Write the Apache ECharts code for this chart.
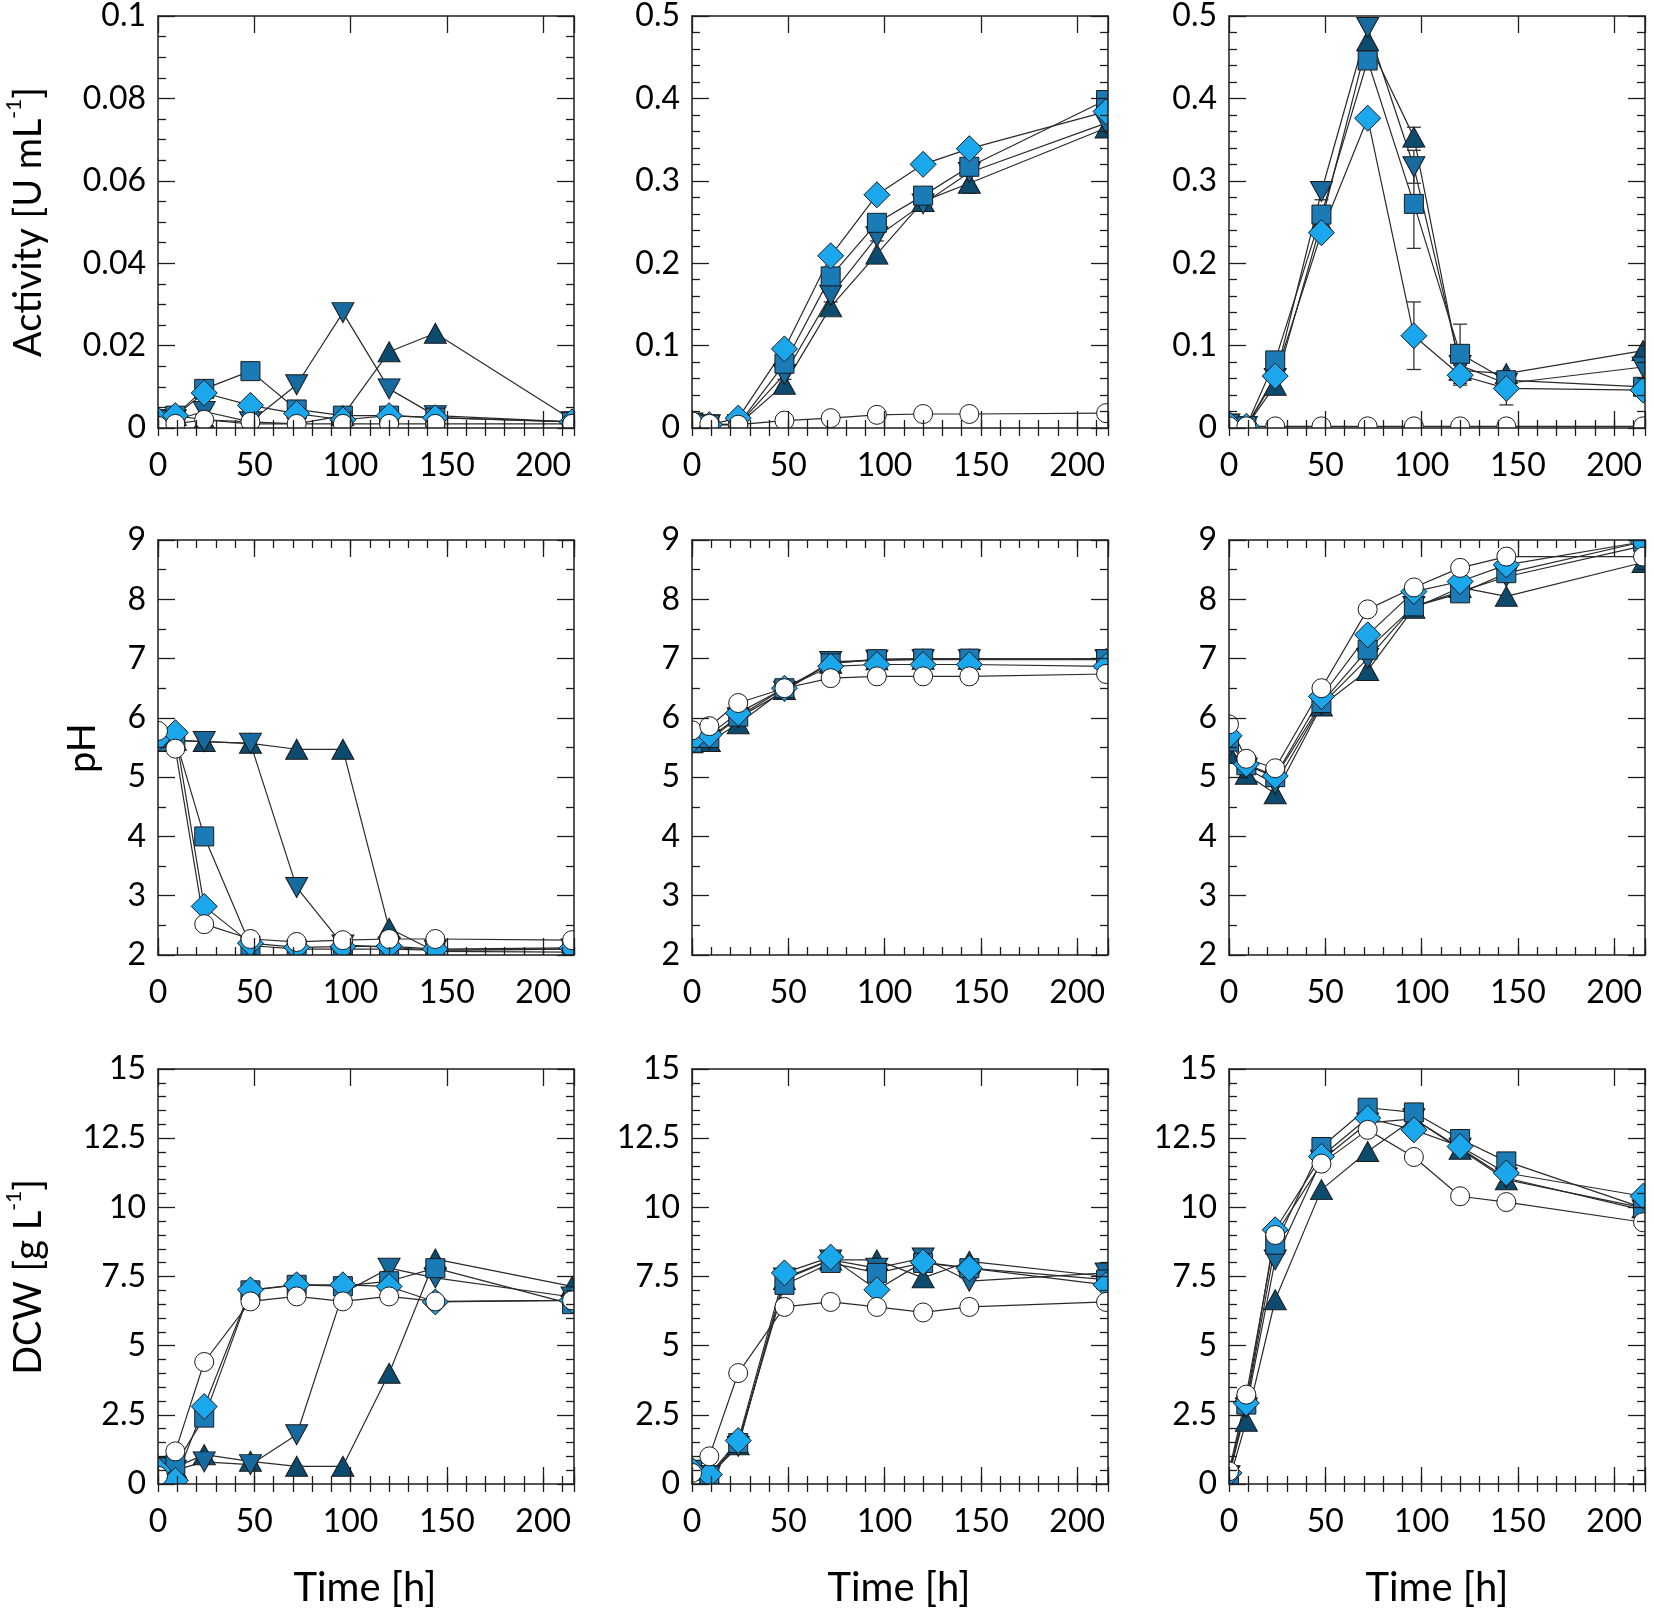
<!DOCTYPE html>
<html><head><meta charset="utf-8">
<script src="https://cdn.jsdelivr.net/npm/echarts@6/dist/echarts.min.js"></script>
<style>html,body{margin:0;padding:0;background:#fff}#c{width:1654px;height:1609px}</style>
</head><body><div id="c"></div>
<script>
// ---------- DATA ----------
const times = [0, 9, 24, 48, 72, 96, 120, 144, 215];

// Activity [U mL-1], column 1
const act1_up = [0.002, 0.003, 0.002, 0.001, 0.001, 0.003, 0.0185, 0.023, 0.002];
const act1_dn = [0.002, 0.002, 0.004, 0.0015, 0.0105, 0.028, 0.0095, 0.003, 0.0015];
const act1_sq = [0.002, 0.003, 0.0095, 0.0138, 0.0045, 0.003, 0.003, 0.0025, 0.0015];
const act1_dm = [0.002, 0.003, 0.0085, 0.0055, 0.0035, 0.002, 0.003, 0.0025, 0.0015];
const act1_ci = [0.0005, 0.001, 0.002, 0.0015, 0.001, 0.001, 0.001, 0.001, 0.001];
// Activity, column 2
const act2_up = [0.006, 0.004, 0.004, 0.053, 0.147, 0.211, 0.275, 0.297, 0.364];
const act2_dn = [0.006, 0.004, 0.004, 0.065, 0.161, 0.232, 0.272, 0.31, 0.37];
const act2_sq = [0.006, 0.004, 0.004, 0.078, 0.184, 0.249, 0.282, 0.317, 0.398];
const act2_dm = [0.006, 0.004, 0.012, 0.096, 0.209, 0.283, 0.32, 0.339, 0.384];
const act2_ci = [0.008, 0.005, 0.004, 0.009, 0.012, 0.016, 0.017, 0.017, 0.018];
// Activity, column 3
const act3_up = [0.005, 0.002, 0.052, 0.25, 0.47, 0.353, 0.07, 0.066, 0.094];
const act3_dn = [0.005, 0.002, 0.06, 0.287, 0.486, 0.317, 0.076, 0.054, 0.074];
const act3_sq = [0.005, 0.002, 0.082, 0.259, 0.446, 0.272, 0.09, 0.058, 0.05];
const act3_dm = [0.005, 0.002, 0.063, 0.237, 0.376, 0.112, 0.064, 0.048, 0.046];
const act3_ci = [0.002, 0.002, 0.002, 0.002, 0.002, 0.002, 0.002, 0.002, 0.002];
// pH, column 1
const ph1_up = [5.6, 5.62, 5.6, 5.57, 5.47, 5.47, 2.45, 2.06, 2.05];
const ph1_dn = [5.6, 5.62, 5.6, 5.57, 3.14, 2.17, 2.13, 2.08, 2.1];
const ph1_sq = [5.6, 5.65, 4.0, 2.16, 2.1, 2.1, 2.1, 2.08, 2.1];
const ph1_dm = [5.65, 5.75, 2.82, 2.2, 2.13, 2.14, 2.15, 2.1, 2.12];
const ph1_ci = [5.78, 5.48, 2.52, 2.27, 2.22, 2.25, 2.27, 2.27, 2.25];
// pH, column 2
const ph2_up = [5.58, 5.6, 5.9, 6.48, 6.92, 6.98, 6.99, 6.99, 7.0];
const ph2_dn = [5.6, 5.63, 6.0, 6.45, 6.95, 6.97, 6.98, 6.98, 6.98];
const ph2_sq = [5.58, 5.66, 6.02, 6.5, 6.92, 6.99, 7.0, 7.0, 6.99];
const ph2_dm = [5.62, 5.72, 6.08, 6.5, 6.87, 6.9, 6.9, 6.9, 6.87];
const ph2_ci = [5.79, 5.86, 6.25, 6.5, 6.67, 6.7, 6.7, 6.7, 6.74];
// pH, column 3
const ph3_up = [5.4, 5.05, 4.72, 6.2, 6.8, 7.85, 8.2, 8.05, 8.62];
const ph3_dn = [5.5, 5.15, 4.88, 6.22, 7.0, 7.88, 8.13, 8.38, 8.9];
const ph3_sq = [5.6, 5.2, 5.0, 6.25, 7.15, 7.88, 8.1, 8.44, 8.97];
const ph3_dm = [5.7, 5.22, 5.02, 6.36, 7.4, 8.13, 8.3, 8.58, 8.97];
const ph3_ci = [5.89, 5.31, 5.15, 6.5, 7.83, 8.2, 8.53, 8.72, 8.72];
// DCW [g L-1], column 1
const dcw1_up = [0.6, 0.6, 1.06, 0.82, 0.64, 0.64, 4.0, 8.13, 7.14];
const dcw1_dn = [0.6, 0.5, 0.8, 0.7, 1.78, 6.9, 7.8, 7.45, 6.76];
const dcw1_sq = [0.6, 0.7, 2.4, 7.0, 7.2, 7.15, 7.33, 7.8, 6.5];
const dcw1_dm = [0.5, 0.13, 2.8, 7.02, 7.2, 7.2, 7.14, 6.58, 6.64];
const dcw1_ci = [0.3, 1.18, 4.41, 6.6, 6.78, 6.6, 6.78, 6.6, 6.64];
// DCW, column 2
const dcw2_up = [0.5, 0.3, 1.42, 7.39, 8.1, 8.1, 7.45, 8.05, 7.5];
const dcw2_dn = [0.5, 0.3, 1.36, 7.45, 8.1, 7.8, 8.17, 7.33, 7.63];
const dcw2_sq = [0.5, 0.3, 1.48, 7.2, 7.99, 7.63, 7.99, 7.8, 7.39];
const dcw2_dm = [0.5, 0.34, 1.57, 7.63, 8.2, 7.02, 8.02, 7.8, 7.2];
const dcw2_ci = [0.4, 1.0, 4.01, 6.4, 6.58, 6.4, 6.2, 6.4, 6.58];
// DCW, column 3
const dcw3_up = [0.1, 2.27, 6.66, 10.64, 12.02, 13.2, 12.1, 11.0, 9.98];
const dcw3_dn = [0.3, 2.75, 8.1, 11.7, 13.05, 13.2, 12.14, 11.06, 9.9];
const dcw3_sq = [0.3, 2.87, 8.65, 12.18, 13.6, 13.43, 12.47, 11.66, 9.98];
const dcw3_dm = [0.4, 2.93, 9.19, 11.84, 13.23, 12.8, 12.2, 11.24, 10.4];
const dcw3_ci = [0.46, 3.23, 9.0, 11.58, 12.8, 11.82, 10.4, 10.19, 9.46];

// error bars: [series key, time index, +/- error]
const errAct2 = [['up', 7, 0.012], ['dn', 3, 0.006], ['dn', 4, 0.008], ['dn', 5, 0.005]];
const errAct3 = [['sq', 5, 0.054], ['dm', 5, 0.041], ['sq', 6, 0.036], ['dm', 7, 0.02],
                 ['up', 5, 0.012], ['dn', 5, 0.02], ['sq', 4, 0.01], ['dn', 3, 0.01], ['dm', 6, 0.012]];

const xTicks = [0, 50, 100, 150, 200];
const yTitles = ['Activity [U mL', 'pH', 'DCW [g L'];
const xTitle = 'Time [h]';

// ---------- LAYOUT / STYLE ----------
const colLeft = [158, 692, 1229];
const rowTop = [13, 540, 1069];
const W = 416, H = 415;
const XMAX = 216;
const FONT = 'Lato';
const AX = '#1e1e1e';

const styles = [
  {key: 'up', symbol: 'triangle', size: [22, 20], rotate: 0,   color: '#0c4a6e'},
  {key: 'dn', symbol: 'triangle', size: [22, 20], rotate: 180, color: '#166a9d'},
  {key: 'sq', symbol: 'rect',     size: [19, 19], rotate: 0,   color: '#1b7bb7'},
  {key: 'dm', symbol: 'diamond',  size: [26, 26], rotate: 0,   color: '#1ba7ec'},
  {key: 'ci', symbol: 'circle',   size: [19, 19], rotate: 0,   color: '#ffffff'}
];

const panels = [
  {r:0,c:0, y:[0,0.1,0.02,4],  d:{up:act1_up,dn:act1_dn,sq:act1_sq,dm:act1_dm,ci:act1_ci}, err:[]},
  {r:0,c:1, y:[0,0.5,0.1,5],   d:{up:act2_up,dn:act2_dn,sq:act2_sq,dm:act2_dm,ci:act2_ci}, err:errAct2},
  {r:0,c:2, y:[0,0.5,0.1,5],   d:{up:act3_up,dn:act3_dn,sq:act3_sq,dm:act3_dm,ci:act3_ci}, err:errAct3},
  {r:1,c:0, y:[2,9,1,2],       d:{up:ph1_up,dn:ph1_dn,sq:ph1_sq,dm:ph1_dm,ci:ph1_ci}, err:[]},
  {r:1,c:1, y:[2,9,1,2],       d:{up:ph2_up,dn:ph2_dn,sq:ph2_sq,dm:ph2_dm,ci:ph2_ci}, err:[]},
  {r:1,c:2, y:[2,9,1,2],       d:{up:ph3_up,dn:ph3_dn,sq:ph3_sq,dm:ph3_dm,ci:ph3_ci}, err:[]},
  {r:2,c:0, y:[0,15,2.5,5],    d:{up:dcw1_up,dn:dcw1_dn,sq:dcw1_sq,dm:dcw1_dm,ci:dcw1_ci}, err:[]},
  {r:2,c:1, y:[0,15,2.5,5],    d:{up:dcw2_up,dn:dcw2_dn,sq:dcw2_sq,dm:dcw2_dm,ci:dcw2_ci}, err:[]},
  {r:2,c:2, y:[0,15,2.5,5],    d:{up:dcw3_up,dn:dcw3_dn,sq:dcw3_sq,dm:dcw3_dm,ci:dcw3_ci}, err:[]}
];

const grid = [], xAxis = [], yAxis = [], series = [], graphics = [];
const lineSt = {color: AX, width: 1.5};
const tickSt = {color: AX, width: 1.3};
const labelSt = {fontSize: 32, fontFamily: FONT, color: '#000'};

panels.forEach((p, gi) => {
  const L = colLeft[p.c], T = rowTop[p.r];
  grid.push({left: L, top: T, width: W, height: H});
  const xb = {gridIndex: gi, type: 'value', min: 0, max: XMAX, z: 10, splitLine: {show: false},
              axisLine: {show: true, onZero: false, lineStyle: lineSt}};
  ['bottom', 'top'].forEach(pos => {
    xAxis.push(Object.assign({}, xb, {position: pos, interval: 50,
      axisTick: {show: true, inside: true, length: 17, lineStyle: tickSt},
      axisLabel: pos === 'bottom'
        ? Object.assign({show: true, margin: 22, formatter: v => (xTicks.indexOf(v) >= 0 ? String(v) : '')}, labelSt)
        : {show: false}}));
    xAxis.push(Object.assign({}, xb, {position: pos, interval: 10,
      axisLine: {show: false},
      axisTick: {show: true, inside: true, length: 8, lineStyle: tickSt},
      axisLabel: {show: false}}));
  });
  ['left', 'right'].forEach(pos => {
    yAxis.push({gridIndex: gi, type: 'value', position: pos, min: p.y[0], max: p.y[1], interval: p.y[2], z: 10,
      splitLine: {show: false}, minorSplitLine: {show: false},
      axisLine: {show: true, onZero: false, lineStyle: lineSt},
      axisTick: {show: true, inside: true, length: 17, lineStyle: tickSt},
      minorTick: {show: true, splitNumber: p.y[3], length: 8, lineStyle: tickSt},
      axisLabel: pos === 'left' ? Object.assign({show: true, margin: 12}, labelSt) : {show: false}});
  });
  const xi = gi * 4, yi = gi * 2;
  if (p.err.length) {
    series.push({type: 'custom', xAxisIndex: xi, yAxisIndex: yi, z: 2, silent: true,
      data: p.err.map(([k, ti, e]) => [times[ti], p.d[k][ti], e]),
      renderItem: (params, api) => {
        const t = api.value(0), v = api.value(1), e = api.value(2);
        const hi = api.coord([t, v + e]), lo = api.coord([t, v - e]);
        const w = 7, st = {stroke: '#333', lineWidth: 1.3};
        return {type: 'group', children: [
          {type: 'line', shape: {x1: hi[0], y1: hi[1], x2: lo[0], y2: lo[1]}, style: st},
          {type: 'line', shape: {x1: hi[0] - w, y1: hi[1], x2: hi[0] + w, y2: hi[1]}, style: st},
          {type: 'line', shape: {x1: lo[0] - w, y1: lo[1], x2: lo[0] + w, y2: lo[1]}, style: st}
        ]};
      }});
  }
  styles.forEach(s => {
    series.push({type: 'line', xAxisIndex: xi, yAxisIndex: yi, z: 2,
      data: times.map((t, i) => [t, p.d[s.key][i]]),
      symbol: s.symbol, symbolSize: s.size, symbolRotate: s.rotate, showAllSymbol: true,
      lineStyle: {color: '#2a2a2a', width: 1.2},
      itemStyle: {color: s.color, borderColor: '#1a1a1a', borderWidth: 1},
      emphasis: {disabled: true}, silent: true, animation: false});
  });
  // white masks outside the plot so edge markers are cut like the original
  const m = 26;
  [[L - m, T - m, m, H + 2 * m], [L + W, T - m, m, H + 2 * m],
   [L, T - m, W, m], [L, T + H, W, m]].forEach(([x, y, w, h]) => {
    graphics.push({type: 'rect', z: 5, silent: true, shape: {x, y, width: w, height: h}, style: {fill: '#fff'}});
  });
});

// axis titles
const titleY = [{x: 26, y: 222, i: 0, sup: true}, {x: 80, y: 748, i: 1, sup: false}, {x: 26, y: 1277, i: 2, sup: true}];
titleY.forEach(o => {
  graphics.push({type: 'text', z: 20, x: o.x, y: o.y, rotation: Math.PI / 2, silent: true,
    style: {text: o.sup ? '{a|' + yTitles[o.i] + '}{s|-1}{a|]}' : '{a|' + yTitles[o.i] + '}',
      align: 'center', verticalAlign: 'middle', textAlign: 'center', textVerticalAlign: 'middle',
      rich: {a: {fontSize: 38, fontFamily: FONT, fill: '#000', lineHeight: 44, verticalAlign: 'bottom'},
             s: {fontSize: 21, fontFamily: FONT, fill: '#000', lineHeight: 21, verticalAlign: 'top'}}}});
});
[365, 899, 1437].forEach(x => {
  graphics.push({type: 'text', z: 20, x: x, y: 1588, silent: true,
    style: {text: xTitle, fontSize: 40, fontFamily: FONT, fill: '#000',
      align: 'center', verticalAlign: 'middle', textAlign: 'center', textVerticalAlign: 'middle'}});
});

const chart = echarts.init(document.getElementById('c'));
chart.setOption({animation: false, backgroundColor: '#fff', grid, xAxis, yAxis, series, graphic: {elements: graphics}});
</script>
</body></html>
